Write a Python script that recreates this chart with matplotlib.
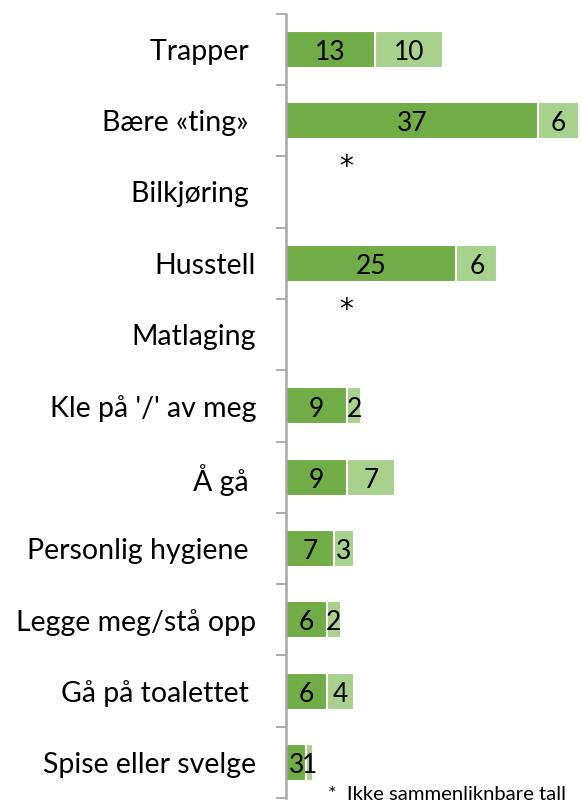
import matplotlib
matplotlib.use("Agg")
import matplotlib.pyplot as plt
import numpy as np

categories = ["Trapper ", "Bære «ting» ", "Bilkjøring ", "Husstell", "Matlaging",
              "Kle på '/' av meg", "Å gå ", "Personlig hygiene ", "Legge meg/stå opp",
              "Gå på toalettet ", "Spise eller svelge"]
dark_vals = [13, 37, None, 25, None, 9, 9, 7, 6, 6, 3]
light_vals = [10, 6, None, 6, None, 2, 7, 3, 2, 4, 1]
not_comparable = [False, False, True, False, True, False, False, False, False, False, False]
footnote = "*  Ikke sammenliknbare tall"

DARK = "#70AD47"
LIGHT = "#A9D18E"
FONT = "Lato"
plt.rcParams['font.family'] = [FONT, 'DejaVu Sans']

W, H = 581, 802
fig = plt.figure(figsize=(W / 100, H / 100), dpi=100)
ax_left, ax_right = 286, 580
ax_top, ax_bottom = 13.7, 798
ax = fig.add_axes([ax_left / W, 1 - ax_bottom / H, (ax_right - ax_left) / W, (ax_bottom - ax_top) / H])

n = len(categories)
y = np.arange(n)
d = np.array([v if v is not None else 0 for v in dark_vals], dtype=float)
l = np.array([v if v is not None else 0 for v in light_vals], dtype=float)
has = np.array([v is not None for v in dark_vals])

bh = 0.52
ax.barh(y[has], d[has], height=bh, color=DARK, edgecolor="white", linewidth=1.5)
ax.barh(y[has], l[has], left=d[has], height=bh, color=LIGHT, edgecolor="white", linewidth=1.5)

fs_lab = 19
fs_cat = 20.5
for i in range(n):
    if has[i]:
        ax.text(d[i] / 2, y[i] + 0.045, f"{int(d[i])}", ha="center", va="center", fontsize=fs_lab, color="black")
        ax.text(d[i] + l[i] / 2, y[i] + 0.045, f"{int(l[i])}", ha="center", va="center", fontsize=fs_lab, color="black")
    if not_comparable[i]:
        ax.text(8.8, y[i] - 0.35, "*", ha="center", va="center", fontsize=20,
                family="DejaVu Sans", color="black")

ax.set_xlim(0, 43.15)
ax.set_ylim(n - 0.5, -0.5)
ax.set_yticks(y)
ax.set_yticklabels(categories, fontsize=fs_cat)
ax.tick_params(axis="y", which="major", length=0, pad=21.6)
ax.set_yticks(np.arange(-0.5, n, 1), minor=True)
ax.tick_params(axis="y", which="minor", length=7.2, width=1.3, color="#A6A6A6", direction="out")
ax.set_xticks([])
for s in ["top", "right", "bottom"]:
    ax.spines[s].set_visible(False)
ax.spines["left"].set_color("#A6A6A6")
ax.spines["left"].set_linewidth(1.8)

fig.text(328 / W, 1 - 800 / H, footnote, ha="left", va="baseline", fontsize=14.6, color="black")

fig.savefig("out.png", dpi=100)
